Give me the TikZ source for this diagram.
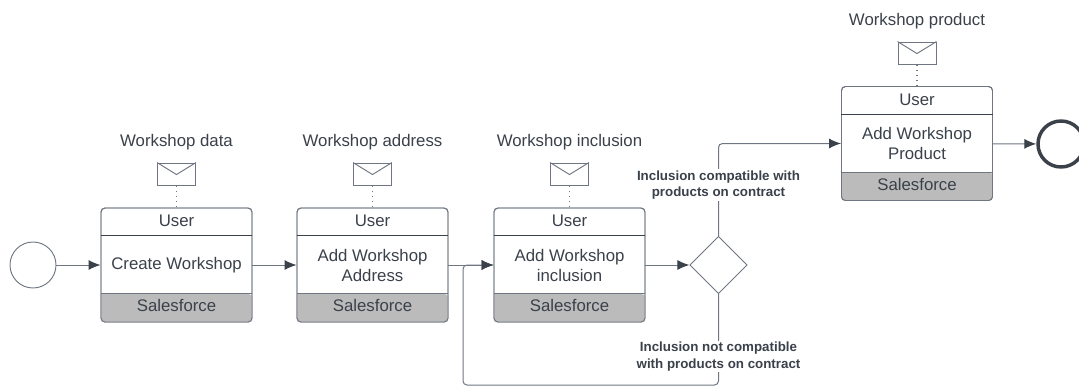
\documentclass[tikz,border=0pt]{standalone}
\usepackage{fontspec}
\setmainfont{Liberation Sans}
\usetikzlibrary{arrows.meta,shapes.geometric}
\definecolor{ink}{HTML}{3A414A}
\definecolor{edgeline}{HTML}{6F7681}
\definecolor{laneGrey}{HTML}{BBBBBB}
\tikzset{
  x=0.75pt,y=-0.75pt,
  lbl/.style={text=ink,font=\fontsize{12.6pt}{15pt}\selectfont,align=center,inner sep=0pt},
  cond/.style={text=ink,font=\bfseries\fontsize{10pt}{12.3pt}\selectfont,align=center,fill=white,inner xsep=1pt,inner ysep=1pt},
  taskbox/.style={draw=edgeline,line width=0.7pt,rounded corners=3pt,minimum width=113.25pt,minimum height=85.5pt,inner sep=0pt},
  flow/.style={draw=edgeline,line width=0.75pt,rounded corners=3pt,-{Latex[length=9pt,width=7.5pt,color=ink]}},
  msg/.style={draw=edgeline,fill=white,line width=0.7pt,minimum width=28.5pt,minimum height=16.5pt,inner sep=0pt},
  dots/.style={draw=edgeline,line width=0.8pt,dash pattern=on 1.2pt off 2.6pt},
}
\newcommand{\task}[4]{% name, cx, cy, text
  \node[taskbox] (#1) at (#2,#3) {};
  \fill[laneGrey,rounded corners=3pt] ([yshift=21.4pt]#1.south west) -- ([yshift=21.4pt]#1.south east) [sharp corners] -- ([yshift=10pt]#1.south east) [rounded corners=3pt] -- (#1.south east) -- (#1.south west) -- ([yshift=10pt]#1.south west) [sharp corners] -- cycle;
  \node[taskbox,fill=none] at (#2,#3) {};
  \draw[edgeline,line width=0.7pt] ([yshift=21.4pt]#1.south west) -- ([yshift=21.4pt]#1.south east);
  \draw[ink,line width=0.7pt] ([yshift=-21pt]#1.north west) -- ([yshift=-21pt]#1.north east);
  \node[lbl] (#1u) at ([yshift=-10.2pt]#1.north) {User};
  \node[lbl] (#1t) at ([yshift=0pt]#1.center) {#4};
  \node[lbl] (#1s) at ([yshift=12.7pt]#1.south) {Salesforce};
}
\newcommand{\envelope}[4]{% name, cx, cy, task
  \node[msg] (#1) at (#2,#3) {};
  \draw[edgeline,line width=0.7pt] (#1.north west) -- ([yshift=-9pt]#1.north) -- (#1.north east);
  \draw[dots] (#1.south) -- (#4.north);
}
\begin{document}
\begin{tikzpicture}
\useasboundingbox (0,0) rectangle (1079,386);
\clip (0,0) rectangle (1079,386);
% tasks
\task{ba}{176.5}{265}{Create Workshop}
\task{bb}{372.5}{265}{Add Workshop\\Address}
\task{bc}{569.5}{265}{Add Workshop\\inclusion}
\task{bd}{917}{143.5}{Add Workshop\\Product}
% messages
\envelope{ma}{176.5}{174}{ba}
\envelope{mb}{372.5}{174}{bb}
\envelope{mc}{569.5}{174}{bc}
\envelope{md}{917}{53}{bd}
\node[lbl] (la) at (176.5,142) {Workshop data};
\node[lbl] (lb) at (372.5,142) {Workshop address};
\node[lbl] (lc) at (569.5,142) {Workshop inclusion};
\node[lbl] (ld) at (917,21) {Workshop product};
% events and gateway
\node[circle,draw=edgeline,line width=0.7pt,minimum size=34.5pt,inner sep=0pt] (start) at (33,265) {};
\node[circle,draw=ink,line width=2.6pt,minimum size=34.5pt,inner sep=0pt] (end) at (1061,144) {};
\node[diamond,draw=edgeline,line width=0.7pt,minimum width=43pt,minimum height=43pt,inner sep=0pt] (gw) at (718.5,265) {};
% connectors
\coordinate (upbend) at (718.5,143.5);
\coordinate (downa) at (718.5,385);
\coordinate (downb) at (463,385);
\coordinate (downc) at (463,265);
\draw[flow] (start) -- (ba);
\draw[flow] (ba) -- (bb);
\draw[flow] (bb) -- (bc);
\draw[flow] (bc) -- (gw);
\draw[flow] (gw.north) -- (upbend) -- (bd.west);
\draw[flow] (gw.south) -- (downa) -- (downb) -- (downc) -- (bc.west);
\draw[flow] (bd) -- (end);
% condition labels
\node[cond] (ca) at (718.5,185) {Inclusion compatible with\\products on contract};
\node[cond] (cb) at (718.5,356.5) {Inclusion not compatible\\with products on contract};
\end{tikzpicture}
\end{document}
